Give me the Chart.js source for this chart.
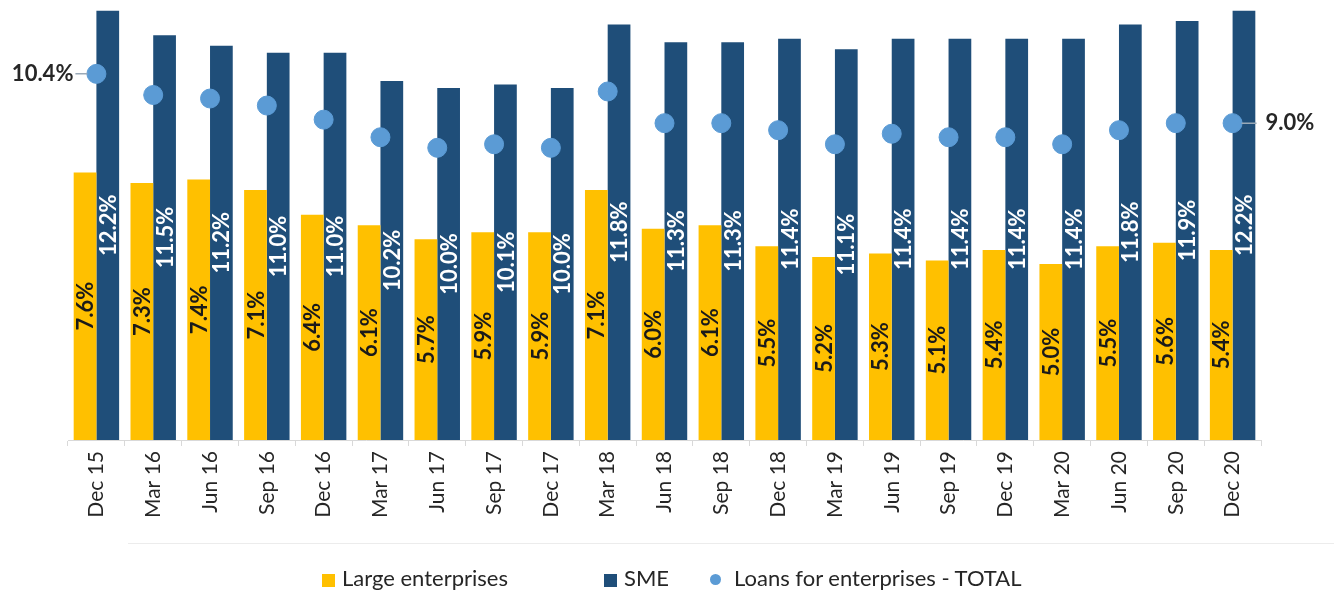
<!DOCTYPE html>
<html>
<head>
<meta charset="utf-8">
<script src="https://cdn.jsdelivr.net/npm/chart.js@4/dist/chart.umd.min.js"></script>
<style>
  body { margin: 0; background: #fff; }
  #wrap { position: relative; width: 1334px; height: 592px; }
  #sep { position: absolute; left: 128px; right: 0; top: 543px; border-top: 1px solid #ececec; }
  .lg { position: absolute; top: 565px; font-family: Lato, sans-serif; font-size: 22px; color: #262626; line-height: 26px; white-space: nowrap; }
  .sw { display: inline-block; width: 13px; height: 13px; margin-right: 7px; vertical-align: -1px; }
  .dot { display: inline-block; width: 11px; height: 11px; border-radius: 50%; margin-right: 13px; vertical-align: 1px; }
</style>
</head>
<body>
<div id="wrap">
  <canvas id="myChart" width="1334" height="592"></canvas>
  <div id="sep"></div>
  <div class="lg" style="left:322px"><span class="sw" style="background:#ffc000"></span>Large enterprises</div>
  <div class="lg" style="left:604px"><span class="sw" style="background:#1f4e79"></span>SME</div>
  <div class="lg" style="left:710px"><span class="dot" style="background:#5b9bd5"></span>Loans for enterprises - TOTAL</div>
</div>
<script>
var quarters = ['Dec 15', 'Mar 16', 'Jun 16', 'Sep 16', 'Dec 16', 'Mar 17', 'Jun 17', 'Sep 17', 'Dec 17',
  'Mar 18', 'Jun 18', 'Sep 18', 'Dec 18', 'Mar 19', 'Jun 19', 'Sep 19', 'Dec 19', 'Mar 20', 'Jun 20', 'Sep 20', 'Dec 20'];
var largeEnterprises = [7.6, 7.3, 7.4, 7.1, 6.4, 6.1, 5.7, 5.9, 5.9, 7.1, 6.0, 6.1, 5.5, 5.2, 5.3, 5.1, 5.4, 5.0, 5.5, 5.6, 5.4];
var sme = [12.2, 11.5, 11.2, 11.0, 11.0, 10.2, 10.0, 10.1, 10.0, 11.8, 11.3, 11.3, 11.4, 11.1, 11.4, 11.4, 11.4, 11.4, 11.8, 11.9, 12.2];
var total = [10.4, 9.8, 9.7, 9.5, 9.1, 8.6, 8.3, 8.4, 8.3, 9.9, 9.0, 9.0, 8.8, 8.4, 8.7, 8.6, 8.6, 8.4, 8.8, 9.0, 9.0];

// value labels inside the bars, rotated
var barLabels = {
  id: 'barLabels',
  afterDatasetsDraw: function(chart) {
    var ctx = chart.ctx;
    chart.data.datasets.forEach(function(ds, i) {
      if (ds.type !== 'bar') return;
      var meta = chart.getDatasetMeta(i);
      meta.data.forEach(function(bar, j) {
        ctx.save();
        ctx.translate(bar.x + 1, (bar.y + bar.base) / 2);
        ctx.rotate(-Math.PI / 2);
        ctx.font = 'bold 22px Lato';
        ctx.fillStyle = ds.labelColor;
        ctx.textAlign = 'center';
        ctx.textBaseline = 'middle';
        ctx.fillText(ds.data[j].toFixed(1) + '%', 0, 0);
        ctx.restore();
      });
    });
  }
};

// first and last total value with a small leader line
var endLabels = {
  id: 'endLabels',
  afterDatasetsDraw: function(chart) {
    var ctx = chart.ctx;
    var pts = chart.getDatasetMeta(2).data;
    var first = pts[0], last = pts[pts.length - 1];
    ctx.save();
    ctx.strokeStyle = '#9aa9b8';
    ctx.lineWidth = 1.5;
    ctx.beginPath();
    ctx.moveTo(first.x - 21, first.y);
    ctx.lineTo(first.x - 9, first.y);
    ctx.moveTo(last.x + 9, last.y);
    ctx.lineTo(last.x + 24, last.y);
    ctx.stroke();
    ctx.font = 'bold 22px Lato';
    ctx.fillStyle = '#262626';
    ctx.textBaseline = 'middle';
    ctx.textAlign = 'right';
    ctx.fillText(total[0].toFixed(1) + '%', first.x - 23, first.y);
    ctx.textAlign = 'left';
    ctx.fillText(total[total.length - 1].toFixed(1) + '%', last.x + 33, last.y);
    ctx.restore();
  }
};

var ctx = document.getElementById('myChart').getContext('2d');
var chart = new Chart(ctx, {
  type: 'bar',
  data: {
    labels: quarters,
    datasets: [{
      type: 'bar',
      label: 'Large enterprises',
      data: largeEnterprises,
      backgroundColor: '#ffc000',
      labelColor: '#1a1a1a',
      barPercentage: 1,
      categoryPercentage: 0.8,
      order: 1
    }, {
      type: 'bar',
      label: 'SME',
      data: sme,
      backgroundColor: '#1f4e79',
      labelColor: '#ffffff',
      barPercentage: 1,
      categoryPercentage: 0.8,
      order: 1
    }, {
      type: 'line',
      label: 'Loans for enterprises - TOTAL',
      data: total,
      showLine: false,
      pointRadius: 9.5,
      pointHoverRadius: 9.5,
      pointBackgroundColor: '#5b9bd5',
      pointBorderColor: '#5b9bd5',
      order: 0
    }]
  },
  options: {
    responsive: false,
    animation: false,
    layout: { padding: { left: 68, right: 73, top: 0, bottom: 0 } },
    plugins: {
      legend: { display: false },
      tooltip: { enabled: false }
    },
    scales: {
      x: {
        afterFit: function(scale) { scale.height = 152; },
        grid: { offset: true, drawOnChartArea: false, tickLength: 6, color: '#d9d9d9' },
        border: { color: '#d9d9d9' },
        ticks: {
          minRotation: 90,
          maxRotation: 90,
          padding: 5,
          color: '#262626',
          font: { family: 'Lato', size: 21 }
        }
      },
      y: {
        display: false,
        min: 0,
        max: 12.2
      }
    }
  },
  plugins: [barLabels, endLabels]
});
</script>
</body>
</html>
